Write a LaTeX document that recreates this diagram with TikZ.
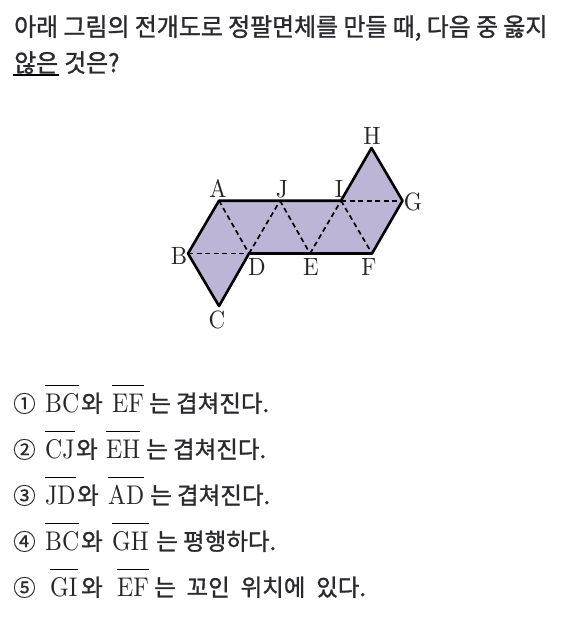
\documentclass[tikz,border=0pt]{standalone}
\usepackage{fontspec}
\usetikzlibrary{calc}
\newfontfamily\krhead{Noto Sans CJK KR}[FakeBold=1.2,FakeStretch=0.956]
\newfontfamily\krbody{Noto Sans CJK KR}[FakeBold=1.2]
\newfontfamily\krnum{Noto Sans CJK KR}[FakeBold=0.3]
\definecolor{netfill}{HTML}{BDB5D6}
\definecolor{ink}{HTML}{2A2A2E}
\tikzset{
  headtext/.style={anchor=base west,inner sep=0pt,text=ink,font=\krhead\fontsize{25}{25}\selectfont},
  bodytext/.style={anchor=base west,inner sep=0pt,text=ink,font=\krbody\fontsize{23.5}{23.5}\selectfont},
  numtext/.style={anchor=base west,inner sep=0pt,text=ink,font=\krnum\fontsize{22.5}{22.5}\selectfont},
  segtext/.style={anchor=base west,inner sep=0pt,text=black!85},
  vlabel/.style={inner sep=0pt,text=black!85},
  edge/.style={line width=2.6pt,line cap=round,line join=round,draw=black},
  fold/.style={line width=1.7pt,draw=black,dash pattern=on 5pt off 3.5pt},
  barline/.style={line width=1pt,draw=black},
}
\newcommand{\segm}[4]{% name, x, y, text
  \node[segtext] (#1) at (#2,#3) {\scalebox{2.38}[2.7]{#4}};
  \draw[barline] ($(#1.base west)+(0,-27)$) -- ($(#1.base east)+(0,-27)$);
}
\newcommand{\vtx}[1]{\scalebox{2.3}[2.5]{#1}}
\begin{document}
\begin{tikzpicture}[x=1pt,y=-1pt]
\useasboundingbox (0,0) rectangle (587,619);
\fill[white] (0,0) rectangle (587,619);
% title
\node[headtext] (t1) at (14,36) {아래 그림의 전개도로 정팔면체를 만들 때, 다음 중 옳지};
\node[headtext] (t2a) at (14,72) {않은};
\node[headtext] (t2b) at (64,72) {것은?};
\draw[line width=1.2pt,draw=black] ($(t2a.base west)+(-1,3)$) -- ($(t2a.base east)+(1,3)$);
% net
\coordinate (A) at (219,200.7);
\coordinate (J) at (280,200.7);
\coordinate (I) at (341,200.7);
\coordinate (G) at (402.5,200.7);
\coordinate (H) at (371.5,148);
\coordinate (B) at (188,253.5);
\coordinate (D) at (249,253.5);
\coordinate (E) at (310,253.5);
\coordinate (F) at (372,253.5);
\coordinate (C) at (219,306);
\fill[netfill] (A) -- (J) -- (I) -- (H) -- (G) -- (F) -- (E) -- (D) -- (C) -- (B) -- cycle;
\draw[fold] (B) -- (D);
\draw[fold] (A) -- (D);
\draw[fold] (D) -- (J);
\draw[fold] (J) -- (E);
\draw[fold] (E) -- (I);
\draw[fold] (I) -- (F);
\draw[fold] (I) -- (G);
\draw[edge] (A) -- (J) -- (I) -- (H);
\draw[edge] (H) -- (G) -- (F) -- (E) -- (D) -- (C) -- (B) -- (A);
\node[vlabel] (lA) at (218,189) {\vtx{A}};
\node[vlabel] (lJ) at (282,189) {\vtx{J}};
\node[vlabel] (lI) at (339,189) {\vtx{I}};
\node[vlabel] (lH) at (372,136) {\vtx{H}};
\node[vlabel] (lG) at (413,202) {\vtx{G}};
\node[vlabel] (lB) at (179,256) {\vtx{B}};
\node[vlabel] (lD) at (257,267) {\vtx{D}};
\node[vlabel] (lE) at (311,267) {\vtx{E}};
\node[vlabel] (lF) at (369,267) {\vtx{F}};
\node[vlabel] (lC) at (217,320) {\vtx{C}};
% options
\node[numtext] (n1) at (13,412) {①};
\segm{s1a}{45}{412}{BC}
\node[bodytext] (w1) at (81,412) {와};
\segm{s1b}{112}{412}{EF}
\node[bodytext] (r1) at (149,412) {는 겹쳐진다.};
\node[numtext] (n2) at (13,458) {②};
\segm{s2a}{45}{458}{CJ}
\node[bodytext] (w2) at (76,458) {와};
\segm{s2b}{106}{458}{EH}
\node[bodytext] (r2) at (146,458) {는 겹쳐진다.};
\node[numtext] (n3) at (13,504) {③};
\segm{s3a}{45}{504}{JD}
\node[bodytext] (w3) at (77,504) {와};
\segm{s3b}{108}{504}{AD}
\node[bodytext] (r3) at (150,504) {는 겹쳐진다.};
\node[numtext] (n4) at (13,550) {④};
\segm{s4a}{45}{550}{BC}
\node[bodytext] (w4) at (81,550) {와};
\segm{s4b}{112}{550}{GH}
\node[bodytext] (r4) at (156,550) {는 평행하다.};
\node[numtext] (n5) at (13,596) {⑤};
\segm{s5a}{50}{596}{GI}
\node[bodytext] (w5) at (81,596) {와};
\segm{s5b}{117}{596}{EF}
\node[bodytext] (r5) at (154,596) {는\hspace{5.5pt} 꼬인\hspace{5.5pt} 위치에\hspace{5.5pt} 있다.};
\end{tikzpicture}
\end{document}
